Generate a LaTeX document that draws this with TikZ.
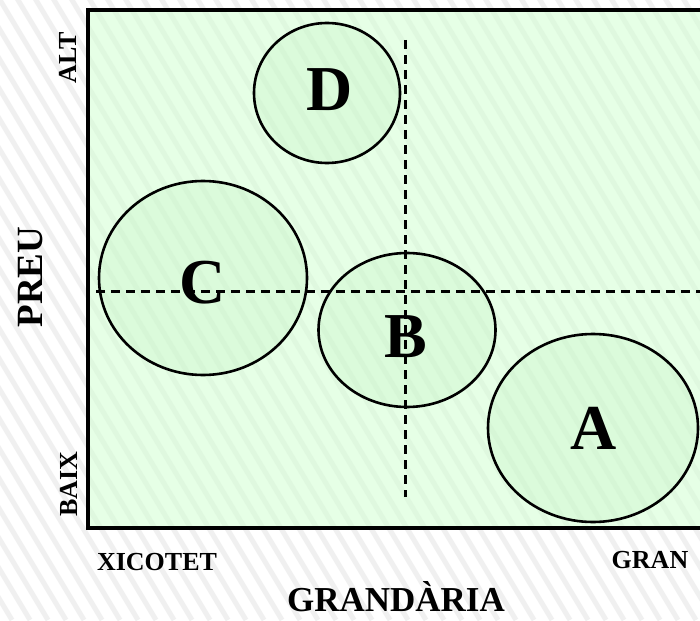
\documentclass[tikz,border=0pt]{standalone}
\usepackage{fontspec}
\setmainfont{Liberation Serif}
\usetikzlibrary{shapes.geometric}

\definecolor{panelgreen}{RGB}{210,255,210}
\definecolor{blobgreen}{RGB}{200,245,200}

\tikzset{
  stripe/.style={line width=5pt, black!6},
  blob/.style={ellipse, draw, line width=2.6pt, fill=blobgreen, fill opacity=0.35,
               text opacity=1, inner sep=0pt},
  letter/.style={anchor=base, inner sep=1pt, font=\bfseries\fontsize{64}{64}\selectfont},
  axislabel/.style={anchor=base, inner sep=1pt, font=\bfseries\fontsize{26}{26}\selectfont},
  guide/.style={line width=3pt, dash pattern=on 9pt off 6pt},
}

\begin{document}
\begin{tikzpicture}[x=1pt, y=-1pt]
  \clip (0,0) rectangle (700,620);
  \fill[white] (0,0) rectangle (700,620);

  % diagonal background texture
  \foreach \s in {-420,-402,...,720}
    \draw[stripe] (\s,-10) -- (\s+378,620);

  % chart panel
  \draw[line width=3.5pt, fill=panelgreen, fill opacity=0.55] (88,10) rectangle (712,528);

  % market segments
  \node[blob, minimum width=146pt, minimum height=140pt] (circD) at (327,93) {};
  \node[blob, minimum width=208pt, minimum height=194pt] (circC) at (203,278) {};
  \node[blob, minimum width=177pt, minimum height=154pt] (circB) at (407,330) {};
  \node[blob, minimum width=210pt, minimum height=188pt] (circA) at (593,428) {};

  % quadrant guides
  \coordinate (hStart) at (96,291);
  \coordinate (hEnd) at (700,291);
  \coordinate (vStart) at (405,40);
  \coordinate (vEnd) at (405,497);
  \draw[guide] (hStart) -- (hEnd);
  \draw[guide] (vStart) -- (vEnd);

  % segment letters
  \node[letter] (labD) at (330,111) {D};
  \node[letter] (labC) at (203,303) {C};
  \node[letter] (labB) at (406,357) {B};
  \node[letter] (labA) at (594,449) {A};

  % axis labels
  \node[axislabel, rotate=90] (alt) at (76,58) {ALT};
  \node[axislabel, rotate=90] (baix) at (77,484) {BAIX};
  \node[anchor=base, inner sep=1pt, rotate=90, font=\bfseries\fontsize{37}{37}\selectfont] (preu) at (42,277) {PREU};
  \node[axislabel] (xicotet) at (157,570) {XICOTET};
  \node[axislabel] (gran) at (650,568) {GRAN};
  \node[anchor=base, inner sep=1pt, font=\bfseries\fontsize{35}{35}\selectfont] (grandaria) at (396,611) {GRANDÀRIA};
\end{tikzpicture}
\end{document}
